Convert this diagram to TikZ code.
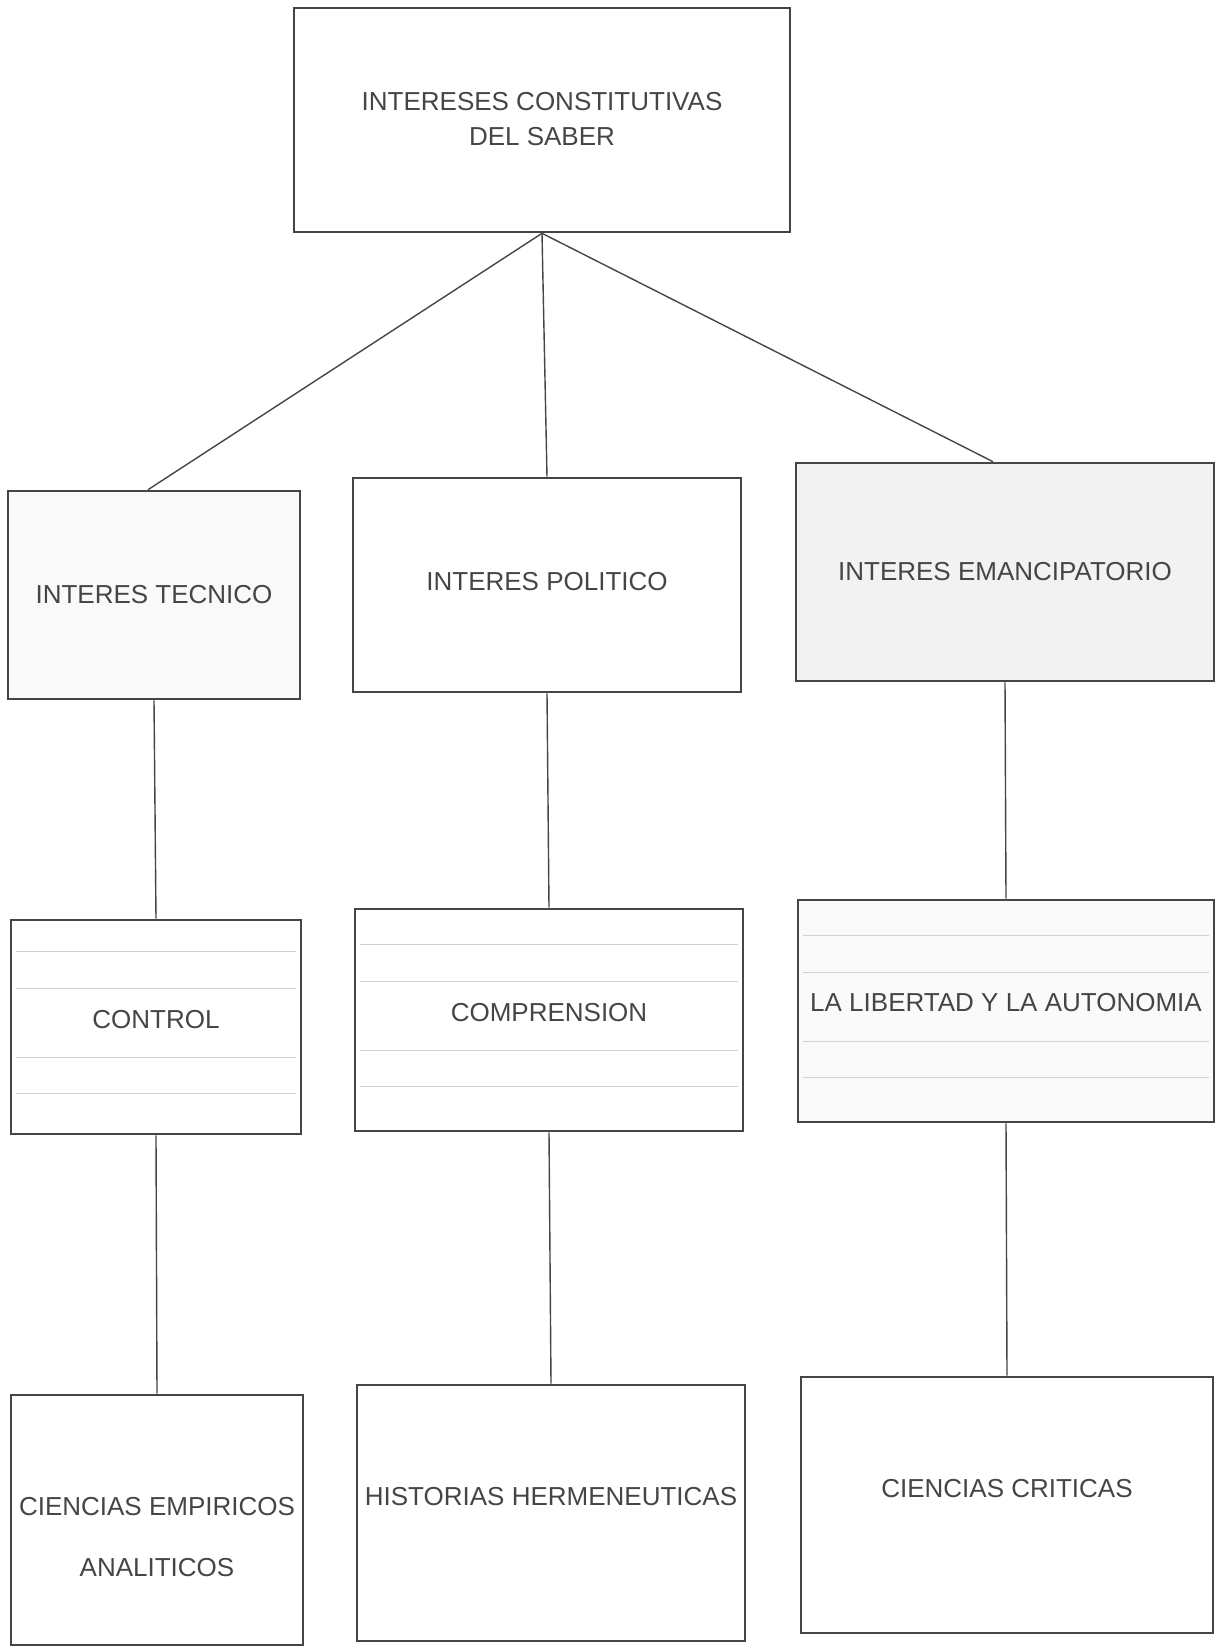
\documentclass[tikz,border=0pt]{standalone}
\usepackage{fontspec}
\setmainfont{Liberation Sans}
\usepackage{xcolor}
\usetikzlibrary{positioning,calc}
\definecolor{ink}{HTML}{454545}
\tikzset{
  box/.style={draw=ink, line width=1.3pt, align=center, text=ink,
              font=\fontsize{13}{17.5}\selectfont, inner sep=2pt},
  shade/.style={box, fill=gray!10},
  link/.style={draw=ink, line width=0.7pt},
  rule/.style={draw=gray!35, line width=0.5pt},
}

\begin{document}
\begin{tikzpicture}[x=0.5pt, y=-0.5pt]
  \useasboundingbox (0,0) rectangle (1216,1648);
  % top
  \node[box, minimum width=248pt, minimum height=112pt, text depth=1pt] (top) at (542,120)
    {INTERESES CONSTITUTIVAS\\DEL SABER};
  % interests
  \node[box, fill=gray!5, minimum width=146pt, minimum height=104pt] (tec) at (154,595) {INTERES TECNICO};
  \node[box, minimum width=194pt, minimum height=107pt, text depth=4pt] (pol) at (547,585) {INTERES POLITICO};
  \node[shade, minimum width=209pt, minimum height=109pt] (ema) at (1005,572) {INTERES EMANCIPATORIO};
  % aims
  \node[box, minimum width=145pt, minimum height=107pt, text depth=8pt] (con) at (156,1027) {CONTROL};
  \node[box, minimum width=194pt, minimum height=111pt, text depth=8pt] (comp) at (549,1020) {COMPRENSION};
  \node[box, fill=gray!4, minimum width=208pt, minimum height=111pt, text depth=9pt] (lib) at (1006,1011) {LA LIBERTAD Y LA AUTONOMIA};
  % sciences
  \node[box, minimum width=146pt, minimum height=125pt, text height=57pt] (emp) at (157,1520)
    {CIENCIAS EMPIRICOS\\[13pt]ANALITICOS};
  \node[box, minimum width=194pt, minimum height=128pt, text depth=17pt] (hist) at (551,1513) {HISTORIAS HERMENEUTICAS};
  \node[box, minimum width=206pt, minimum height=128pt, text depth=17pt] (crit) at (1007,1505) {CIENCIAS CRITICAS};
  % faint ruling in the middle row
  \foreach \b in {con,comp,lib}
    \foreach \k in {-76,-39,30,66}
      \draw[rule] ($(\b.west)+(6,\k)$) -- ($(\b.east)+(-6,\k)$);
  \draw[link] (top.south) -- ($(tec.north)+(-6,0)$);
  \draw[link] (top.south) -- (pol.north);
  \draw[link] (top.south) -- ($(ema.north)+(-12,0)$);
  \foreach \i/\j in {tec/con,pol/comp,ema/lib,con/emp,comp/hist,lib/crit}
    \draw[link] (\i.south) -- (\j.north);
\end{tikzpicture}
\end{document}
